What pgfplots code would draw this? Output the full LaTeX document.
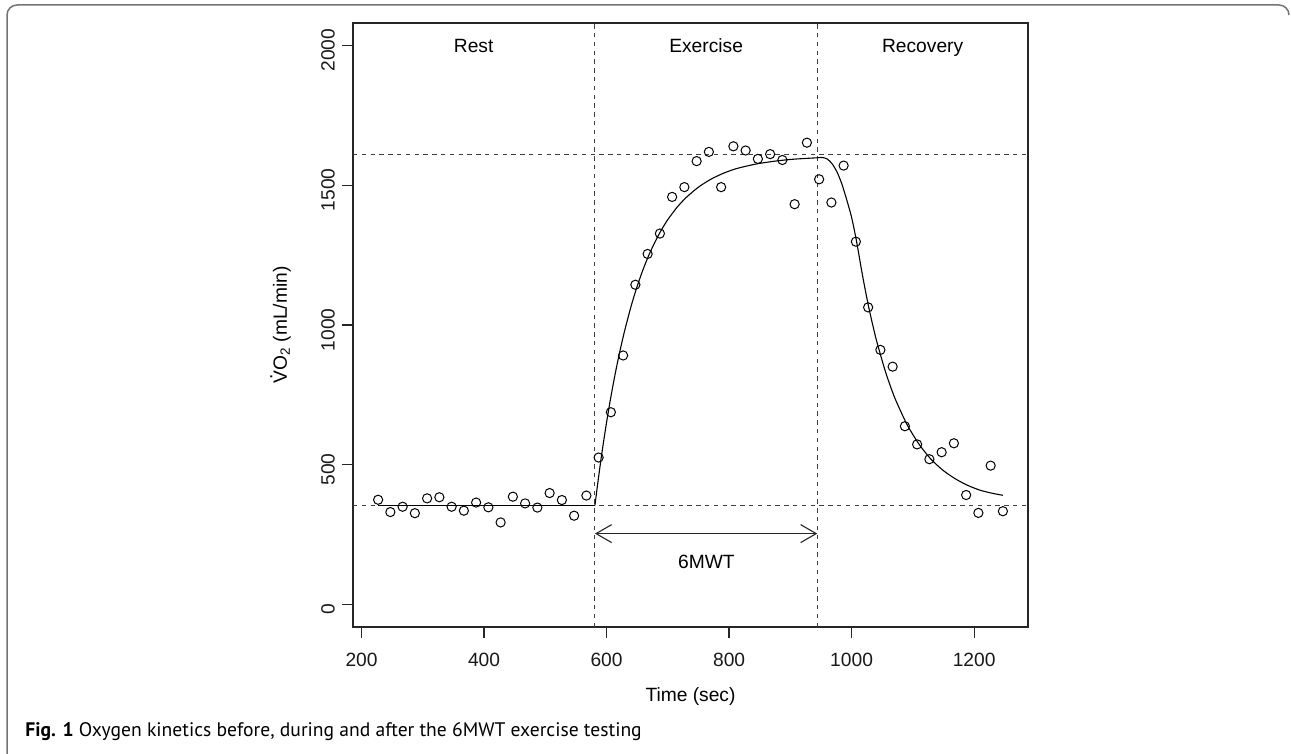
\documentclass[border=0pt]{standalone}
\usepackage{pgfplots}
\pgfplotsset{compat=1.18}
\usepackage{fontspec}
\setmainfont{Liberation Sans}
\newfontfamily\capfont{PT Sans}
\usetikzlibrary{arrows.meta}

\begin{document}
\begin{tikzpicture}[x=1pt,y=1pt, lbl/.style={font=\fontsize{9.6}{11}\selectfont, text height=6.9pt, text depth=0pt, inner sep=0pt}]
\useasboundingbox (0,0) rectangle (645.5,377);
\draw[line width=0.75pt, black!55] (3.5,0) -- (3.5,369.5) arc[start angle=180,end angle=90,radius=5] -- (639.5,374.5) arc[start angle=90,end angle=0,radius=5];
\begin{axis}[
  at={(176.5pt,63.5pt)}, anchor=south west,
  width=337.5pt, height=302pt, scale only axis,
  xmin=186, xmax=1288, ymin=-80, ymax=2080,
  xtick={200,400,600,800,1000,1200}, ytick={0,500,1000,1500,2000},
  tick align=outside, tick pos=left,
  major tick length=5.5pt,
  axis line style={line width=0.6pt, black!85},
  every tick/.style={black!85, line width=0.6pt},
  ticklabel style={font=\fontsize{9.6}{11}\selectfont, black!90},
  /pgf/number format/assume math mode=true,
  /pgf/number format/1000 sep={},
  xticklabel style={yshift=-3.85pt},
  yticklabel style={rotate=90, anchor=south, xshift=-2.35pt},
  clip=false,
]
% reference lines
\addplot[black!75, line width=0.5pt, dash pattern=on 2.2pt off 2.2pt] coordinates {(581,-80) (581,2080)};
\addplot[black!75, line width=0.5pt, dash pattern=on 2.2pt off 2.2pt] coordinates {(944,-80) (944,2080)};
\addplot[black!75, line width=0.5pt, dash pattern=on 2.2pt off 2.2pt] coordinates {(186,355) (1288,355)};
\addplot[black!75, line width=0.5pt, dash pattern=on 2.2pt off 2.2pt] coordinates {(186,1608) (1288,1608)};
% fitted curve
\addplot[black, line width=0.55pt] coordinates {(227,355) (581,355)};
\addplot[black, line width=0.55pt, smooth, tension=0.4] table {
t v
581 355
585 424
590 506
595 582
600 652
605 718
610 779
615 836
620 889
625 938
630 984
640 1067
650 1139
660 1201
670 1255
680 1301
690 1342
700 1377
715 1421
730 1456
750 1493
770 1521
790 1542
810 1558
830 1569
850 1578
875 1586
900 1592
920 1595
944 1598
952 1599
960 1594
968 1577
976 1548
984 1505
992 1448
1000 1385
1008 1300
1018 1175
1028 1063
1040 950
1055 835
1070 742
1090 646
1110 574
1130 519
1150 479
1170 449
1190 426
1210 409
1230 398
1247 391
};
% observed points
\addplot[only marks, mark=o, mark size=2.3pt, mark options={line width=0.5pt, black}] table {
t v
227 375
247 331
267 350
287 327
307 380
327 384
347 350
367 336
387 365
407 348
427 294
447 386
467 362
487 347
507 399
527 374
547 318
567 390
587 526
607 688
627 891
647 1144
667 1254
687 1327
707 1458
727 1493
747 1586
767 1619
787 1493
807 1639
827 1624
847 1594
867 1611
887 1590
907 1432
927 1652
947 1521
967 1438
987 1570
1007 1298
1027 1063
1047 911
1067 851
1087 638
1107 573
1127 520
1147 545
1167 577
1187 392
1207 328
1227 497
1247 334
};
\draw[{Straight Barb[length=7.8pt,width=9pt]}-{Straight Barb[length=7.8pt,width=9pt]}, line width=0.55pt, black!85] (axis cs:581,254) -- (axis cs:944,254);
\node[lbl] at (axis cs:763,154) {6MWT};
\node[lbl] at (axis cs:383,2000) {Rest};
\node[lbl] at (axis cs:762.5,2000) {Exercise};
\node[lbl] at (axis cs:1116,2000) {Recovery};
\end{axis}
\node[lbl] at (345.25,29.5) {Time (sec)};
\node[lbl, rotate=90] at (140,214.5) {\ooalign{V\cr\hidewidth\raisebox{0.76em}{.}\hidewidth\cr}O\textsubscript{2} (mL/min)};
\node[font=\capfont\fontsize{9.8}{12}\selectfont, anchor=base west, inner sep=0pt] at (12.5,8.5) {\textbf{Fig. 1} Oxygen kinetics before, during and after the 6MWT exercise testing};
\end{tikzpicture}
\end{document}
